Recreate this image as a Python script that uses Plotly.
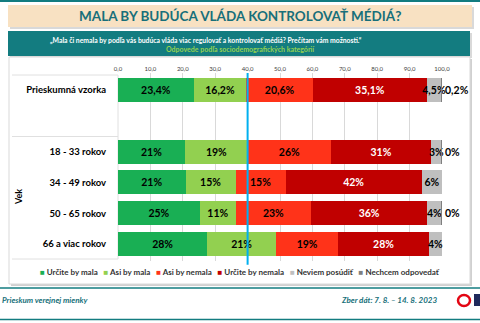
import plotly.graph_objects as go

# ---- data ----
rows = ["Prieskumná vzorka", "18 - 33 rokov", "34 - 49 rokov", "50 - 65 rokov", "66 a viac rokov"]
series_names = ["Určite by mala", "Asi by mala", "Asi by nemala", "Určite by nemala",
                "Neviem posúdiť", "Nechcem odpovedať"]
urcite_mala = [23.4, 20.7, 20.9, 25.3, 27.6]
asi_mala = [16.2, 19.4, 15.4, 11.1, 21.2]
asi_nemala = [20.6, 25.6, 15.4, 23.2, 19.2]
urcite_nemala = [35.1, 31.0, 42.1, 35.9, 28.0]
neviem = [4.5, 3.2, 6.2, 4.4, 4.0]
nechcem = [0.2, 0.1, None, 0.1, None]
x_ticks = [0, 10, 20, 30, 40, 50, 60, 70, 80, 90, 100]
group_label = "Vek"

series = [urcite_mala, asi_mala, asi_nemala, urcite_nemala, neviem, nechcem]
colors = ["#19AF54", "#92D050", "#FF3319", "#C00000", "#BFBFBF", "#7F7F7F"]
text_colors = ["#000000", "#000000", "#000000", "#FFFFFF", "#000000", "#000000"]

# layout helpers (pixel -> paper)
W, H = 480, 323
L, R, T, B = 118, 442, 73, 261
def px(x):
    return (x - L) / (R - L)
def py(y):
    return (B - y) / (B - T)

ypos = [0, 2, 3, 4, 5]
FONT = "Lato"

def fmt(v, i):
    if v is None:
        return ""
    if i == 0:
        return ("%.1f%%" % v).replace(".", ",")
    return "%.0f%%" % v

fig = go.Figure()
for k, (name, vals) in enumerate(zip(series_names, series)):
    texts = [fmt(v, i) for i, v in enumerate(vals)]
    fig.add_trace(go.Bar(
        y=ypos, x=vals, orientation="h", name=name,
        marker=dict(color=colors[k], line=dict(width=0)),
        text=texts,
        textposition="outside" if k == 5 else "inside",
        insidetextanchor="middle",
        textangle=0,
        constraintext="none",
        cliponaxis=False,
        textfont=dict(family=FONT, size=10.5, color=text_colors[k], weight="bold"),
        outsidetextfont=dict(family=FONT, size=10.5, color="#000000", weight="bold"),
        showlegend=False,
        hoverinfo="skip",
    ))

shapes = []
teal = "#137C80"
# top teal stripe
shapes.append(dict(type="rect", xref="paper", yref="paper", x0=px(0), x1=px(480), y0=py(0), y1=py(2),
                   fillcolor=teal, line=dict(width=0), layer="below"))
# title box with shadow
shapes.append(dict(type="rect", xref="paper", yref="paper", x0=px(10), x1=px(474), y0=py(7), y1=py(29),
                   fillcolor="#D9D9D9", line=dict(width=0), layer="below"))
shapes.append(dict(type="rect", xref="paper", yref="paper", x0=px(8), x1=px(472), y0=py(5), y1=py(27),
                   fillcolor="#F8E1C2", line=dict(width=0), layer="below"))
# teal subtitle box
shapes.append(dict(type="rect", xref="paper", yref="paper", x0=px(10), x1=px(472), y0=py(33), y1=py(58),
                   fillcolor="#D9D9D9", line=dict(width=0), layer="below"))
shapes.append(dict(type="rect", xref="paper", yref="paper", x0=px(8), x1=px(470), y0=py(31), y1=py(56),
                   fillcolor=teal, line=dict(width=0), layer="below"))
# chart panel with shadow
shapes.append(dict(type="rect", xref="paper", yref="paper", x0=px(11), x1=px(472), y0=py(59), y1=py(286),
                   fillcolor="#D0D0D0", line=dict(width=0), layer="below"))
shapes.append(dict(type="rect", xref="paper", yref="paper", x0=px(9), x1=px(470), y0=py(57), y1=py(284),
                   fillcolor="#FFFFFF", line=dict(color="#D9D9D9", width=1), layer="below"))
# left label box lines
for yy in (75, 136.5, 259):
    shapes.append(dict(type="line", xref="paper", yref="paper", x0=px(12), x1=px(118), y0=py(yy), y1=py(yy),
                       line=dict(color="#E0E0E0", width=1), layer="below"))
shapes.append(dict(type="line", xref="paper", yref="paper", x0=px(118), x1=px(118), y0=py(75), y1=py(259),
                   line=dict(color="#E0E0E0", width=1), layer="below"))
# 40% reference line
shapes.append(dict(type="line", xref="x", yref="paper", x0=40, x1=40, y0=-0.02, y1=1.0,
                   line=dict(color="#00B0F0", width=2), layer="above"))
# footer lines
for yy in (288, 319.5):
    shapes.append(dict(type="line", xref="paper", yref="paper", x0=px(0), x1=px(480), y0=py(yy), y1=py(yy),
                       line=dict(color=teal, width=1.5), layer="below"))
# logo (approximation)
shapes.append(dict(type="circle", xref="paper", yref="paper", x0=px(458), x1=px(470), y0=py(295), y1=py(306),
                   fillcolor="rgba(0,0,0,0)", line=dict(color="#E30613", width=2.5), layer="above"))
shapes.append(dict(type="rect", xref="paper", yref="paper", x0=px(474), x1=px(480), y0=py(294), y1=py(306),
                   fillcolor="#1F2A5C", line=dict(width=0), layer="above"))

annotations = []
annotations.append(dict(text="<b>MALA BY BUDÚCA VLÁDA KONTROLOVAŤ MÉDIÁ?</b>", xref="paper", yref="paper",
                        x=px(240), y=py(16), showarrow=False, xanchor="center", yanchor="middle",
                        font=dict(family=FONT, size=13.5, color="#176F7A")))
annotations.append(dict(text="<b>„Mala či nemala by podľa vás budúca vláda viac regulovať a kontrolovať médiá? Prečítam vám možnosti.“</b>",
                        xref="paper", yref="paper", x=px(206), y=py(40.5), showarrow=False,
                        xanchor="center", yanchor="middle",
                        font=dict(family=FONT, size=6.8, color="#FFFFFF", weight="bold")))
annotations.append(dict(text="<b>Odpovede podľa sociodemografických kategórií</b>",
                        xref="paper", yref="paper", x=px(240), y=py(48.8), showarrow=False,
                        xanchor="center", yanchor="middle",
                        font=dict(family=FONT, size=7, color="#92D050", weight="bold")))
annotations.append(dict(text="<b>" + group_label + "</b>", xref="paper", yref="paper", x=px(18), y=py(197),
                        textangle=-90, showarrow=False, xanchor="center", yanchor="middle",
                        font=dict(family=FONT, size=9, color="#000000")))
legend_txt = "&nbsp;&nbsp;&nbsp;".join(
    "<span style='color:%s'>■</span> %s" % (c, n) for c, n in zip(colors, series_names))
annotations.append(dict(text="<b>" + legend_txt + "</b>", xref="paper", yref="paper", x=px(240), y=py(272),
                        showarrow=False, xanchor="center", yanchor="middle",
                        font=dict(family=FONT, size=8, color="#333333", weight="bold")))
annotations.append(dict(text="<b><i>Prieskum verejnej mienky</i></b>", xref="paper", yref="paper",
                        x=px(0), y=py(300), showarrow=False, xanchor="left", yanchor="middle",
                        font=dict(family=FONT, size=8, color="#17707A")))
annotations.append(dict(text="<b><i>Zber dát: 7. 8. – 14. 8. 2023</i></b>", xref="paper", yref="paper",
                        x=px(439), y=py(299.5), showarrow=False, xanchor="right", yanchor="middle",
                        font=dict(family=FONT, size=8, color="#17707A")))

fig.update_layout(
    width=W, height=H,
    margin=dict(l=L, r=W - R, t=T, b=H - B, pad=0),
    paper_bgcolor="#FFFFFF", plot_bgcolor="rgba(0,0,0,0)",
    barmode="stack", bargap=0.22,
    separators=",.",
    showlegend=False,
    xaxis=dict(range=[0, 100], side="top", tickvals=x_ticks, tickformat=".1f", ticksuffix="%",
               showgrid=True, gridcolor="#D9D9D9", gridwidth=1, zeroline=False, showline=False,
               tickfont=dict(family=FONT, size=6, color="#404040"), ticks="", fixedrange=True),
    yaxis=dict(range=[5.55, -0.55], tickvals=ypos, ticktext=rows, showgrid=False, zeroline=False,
               showline=False, ticks="outside", ticklen=9, tickcolor="rgba(0,0,0,0)",
               tickfont=dict(family=FONT, size=9.5, color="#000000", weight="bold"), fixedrange=True),
    shapes=shapes, annotations=annotations,
)

fig.write_html("out.html")
